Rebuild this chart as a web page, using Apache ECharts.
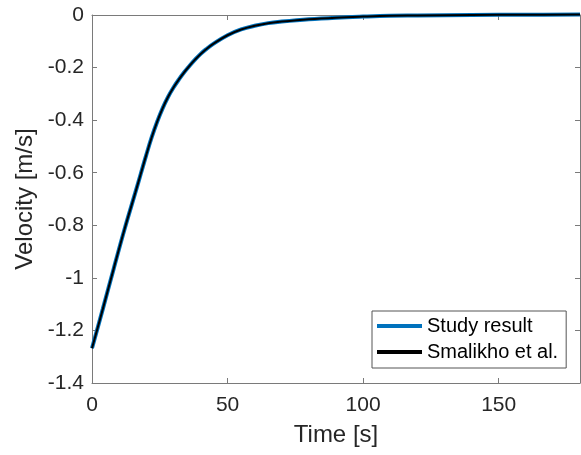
<!DOCTYPE html>
<html>
<head>
<meta charset="utf-8">
<script src="https://cdn.jsdelivr.net/npm/echarts@6/dist/echarts.min.js"></script>
<style>html,body{margin:0;padding:0;background:#fff;}#c{width:581px;height:455px;}</style>
</head>
<body>
<div id="c"></div>
<script>
var timeS = [0, 4, 8, 12, 16, 18, 20, 22, 24, 26, 28, 30, 32, 34, 36, 38, 40, 42, 45, 50, 55, 60, 65, 70, 80, 90, 100, 110, 120, 140, 160, 180];
var studyResult = [-1.268, -1.118, -0.965, -0.815, -0.675, -0.604, -0.533, -0.466, -0.407, -0.356, -0.313, -0.277, -0.246, -0.218, -0.193, -0.170, -0.149, -0.131, -0.108, -0.077, -0.055, -0.041, -0.031, -0.025, -0.016, -0.010, -0.006, -0.003, -0.002, 0.0, 0.001, 0.002];
var smalikho = [-1.268, -1.118, -0.965, -0.815, -0.675, -0.604, -0.533, -0.466, -0.407, -0.356, -0.313, -0.277, -0.246, -0.218, -0.193, -0.170, -0.149, -0.131, -0.108, -0.077, -0.055, -0.041, -0.031, -0.025, -0.016, -0.010, -0.006, -0.003, -0.002, 0.0, 0.001, 0.002];
var seriesNames = ['Study result', 'Smalikho et al.'];
var xTitle = 'Time [s]';
var yTitle = 'Velocity [m/s]';

function pairs(xs, ys) { return xs.map(function (x, i) { return [x, ys[i]]; }); }

var FONT = 'Liberation Sans';
var AX = '#7a7a7a';
var TXT = '#262626';
var chart = echarts.init(document.getElementById('c'), null, { renderer: 'canvas' });
var baseX = {
  type: 'value', min: 0, max: 180, interval: 50,
  axisLine: { show: true, onZero: false, lineStyle: { color: AX, width: 1 } },
  axisTick: { show: true, inside: true, length: 5, lineStyle: { color: AX } },
  splitLine: { show: false }
};
var baseY = {
  type: 'value', min: -1.4, max: 0, interval: 0.2,
  axisLine: { show: true, onZero: false, lineStyle: { color: AX, width: 1 } },
  axisTick: { show: true, inside: true, length: 5, lineStyle: { color: AX } },
  splitLine: { show: false }
};
chart.setOption({
  animation: false,
  backgroundColor: '#fff',
  grid: { left: 92, right: 1, top: 15, bottom: 72, containLabel: false },
  xAxis: [
    Object.assign({}, baseX, {
      position: 'bottom',
      name: xTitle, nameLocation: 'middle', nameGap: 40,
      nameTextStyle: { fontFamily: FONT, fontSize: 24, color: TXT },
      axisLabel: { show: true, margin: 12, fontFamily: FONT, fontSize: 21, color: TXT, showMaxLabel: false }
    }),
    Object.assign({}, baseX, { position: 'top', axisLabel: { show: false } })
  ],
  yAxis: [
    Object.assign({}, baseY, {
      position: 'left',
      name: yTitle, nameLocation: 'middle', nameGap: 50,
      nameTextStyle: { fontFamily: FONT, fontSize: 24, color: TXT },
      axisLabel: { show: true, margin: 8, fontFamily: FONT, fontSize: 21, color: TXT,
        formatter: function (v) { return Math.abs(v) < 1e-9 ? '0' : String(Math.round(v * 10) / 10); } }
    }),
    Object.assign({}, baseY, { position: 'right', axisLabel: { show: false } })
  ],
  legend: {
    orient: 'vertical', left: 372, top: 311,
    padding: [5, 8, 6, 5], itemGap: 6,
    backgroundColor: '#fff', borderColor: '#555', borderWidth: 1,
    icon: 'rect', itemWidth: 45, itemHeight: 4,
    textStyle: { fontFamily: FONT, fontSize: 20, color: '#000' },
    data: seriesNames
  },
  series: [
    { name: seriesNames[0], type: 'line', data: pairs(timeS, studyResult), showSymbol: false, symbol: 'none',
      smooth: 0.4, clip: false,
      lineStyle: { color: '#0072BD', width: 4 }, itemStyle: { color: '#0072BD' } },
    { name: seriesNames[1], type: 'line', data: pairs(timeS, smalikho), showSymbol: false, symbol: 'none',
      smooth: 0.4, clip: false,
      lineStyle: { color: '#000', width: 2 }, itemStyle: { color: '#000' } }
  ]
});
</script>
</body>
</html>
